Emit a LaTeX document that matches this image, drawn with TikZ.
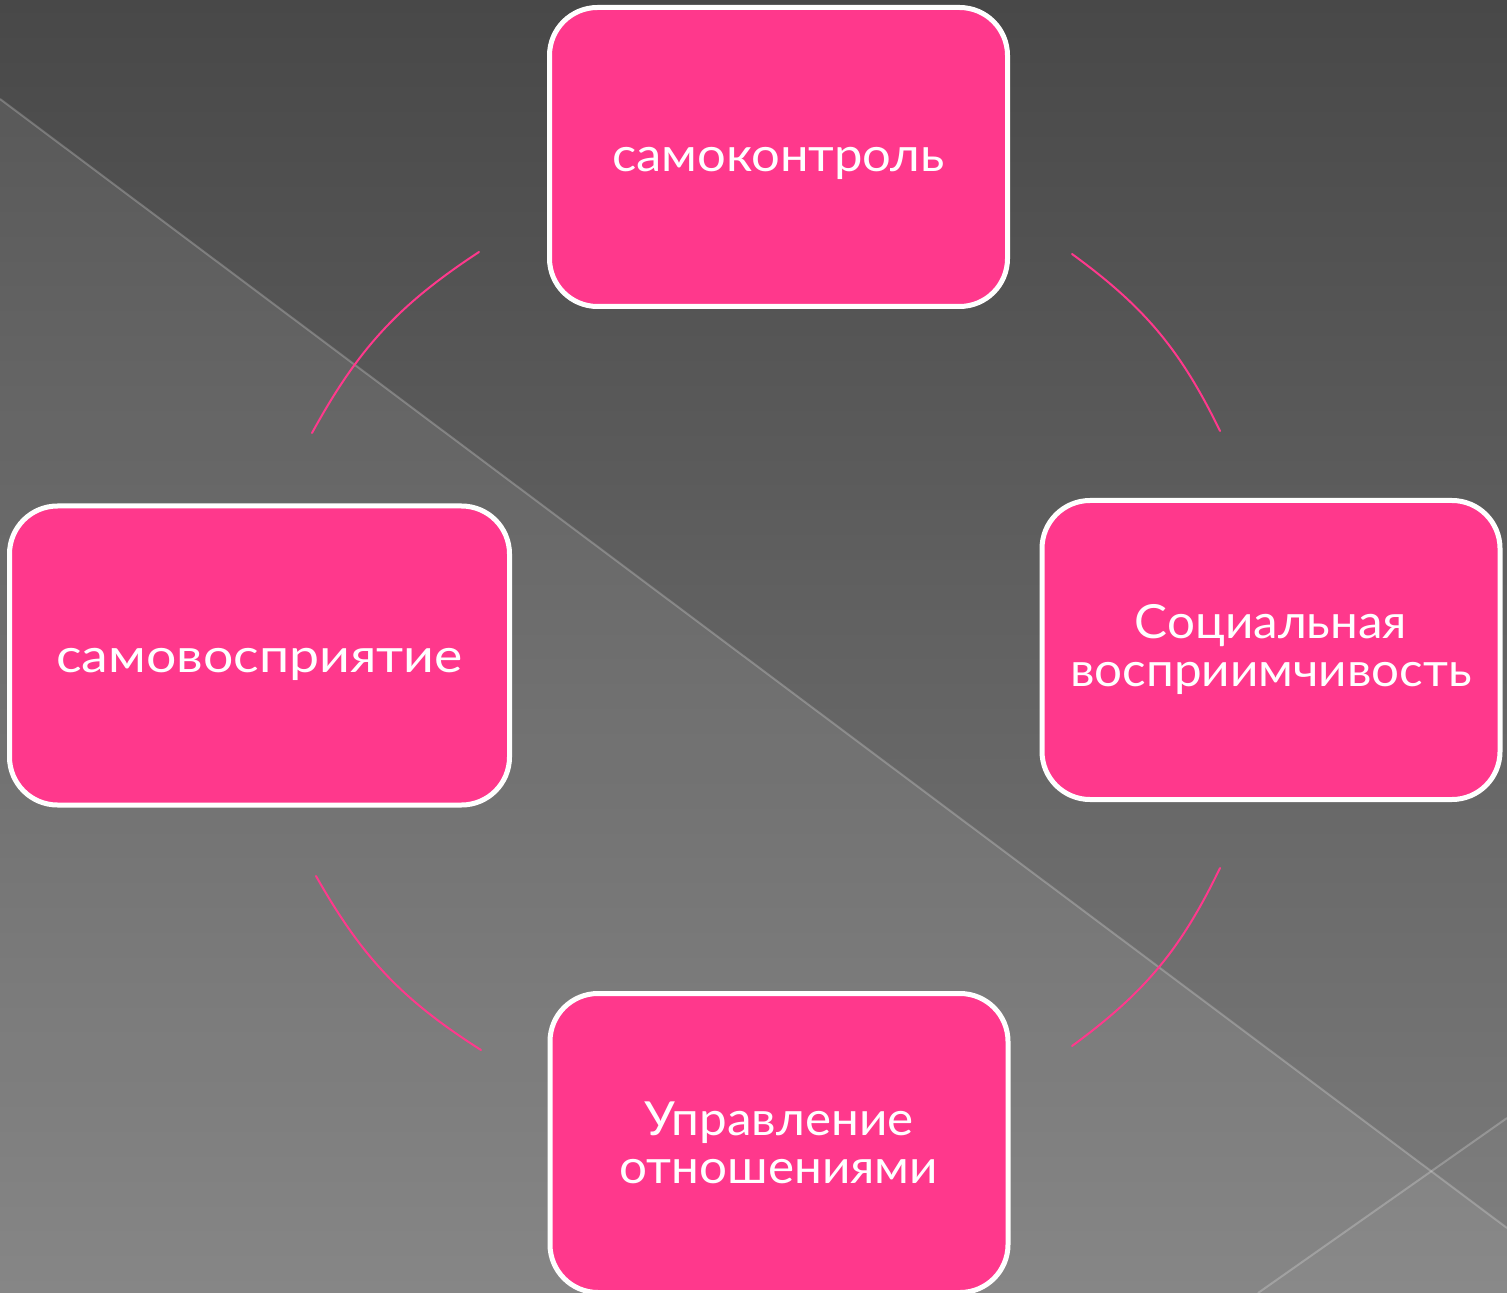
\documentclass[tikz,border=0pt]{standalone}
\usepackage{fontspec}
\setmainfont{Lato}[FakeStretch=1.05]
\newfontfamily\latotop{Lato}[FakeStretch=1.08]
\newfontfamily\latoleft{Lato}[FakeStretch=1.14]
\definecolor{bgtop}{RGB}{72,72,72}
\definecolor{bgbot}{RGB}{124,124,124}
\definecolor{pinkc}{RGB}{255,56,140}
\begin{document}
\begin{tikzpicture}[x=0.5pt,y=-0.5pt,
  box/.style={draw=white, line width=2.5pt, fill=pinkc, rounded corners=24pt,
    text=white, align=center, inner sep=0pt,
    minimum width=229pt, minimum height=149.5pt,
    font=\fontsize{23.5}{24}\selectfont},
  ring/.style={draw=pinkc, line width=1pt, line cap=round},
  streak/.style={draw=white, draw opacity=0.22, line width=1pt}]
\useasboundingbox (0,0) rectangle (1507,1293);
% background
\shade[top color=bgtop, bottom color=bgbot] (0,0) rectangle (1507,1293);
\fill[white, opacity=0.08] (0,99) -- (1507,1228) -- (1507,1293) -- (0,1293) -- cycle;
\fill[white, opacity=0.03] (1258,1293) -- (1507,1118) -- (1507,1293) -- cycle;
\draw[streak] (0,99) -- (1507,1228);
\draw[streak] (1258,1293) -- (1507,1118);
% arcs
\coordinate (a1) at (479,252);
\coordinate (a2) at (312,433);
\coordinate (b1) at (1072,254);
\coordinate (b2) at (1220,431);
\coordinate (c1) at (1220,868);
\coordinate (c2) at (1072,1046);
\coordinate (d1) at (316,876);
\coordinate (d2) at (481,1050);
\draw[ring] (a1) to[bend right=14] (a2);
\draw[ring] (b1) to[bend left=14] (b2);
\draw[ring] (c1) to[bend left=14] (c2);
\draw[ring] (d1) to[bend right=14] (d2);
% boxes
\node[box, text height=15pt, text depth=0pt,
  font=\latotop\fontsize{23.5}{24}\selectfont] (top) at (778.5,157) {самоконтроль};
\node[box] (right) at (1271,650) {Социальная\\восприимчивость};
\node[box, minimum width=250pt, text height=16.5pt, text depth=0pt,
  font=\latoleft\fontsize{23.5}{24}\selectfont] (left) at (259.5,655.5) {самовосприятие};
\node[box] (bottom) at (779,1143) {Управление\\отношениями};
\end{tikzpicture}
\end{document}
